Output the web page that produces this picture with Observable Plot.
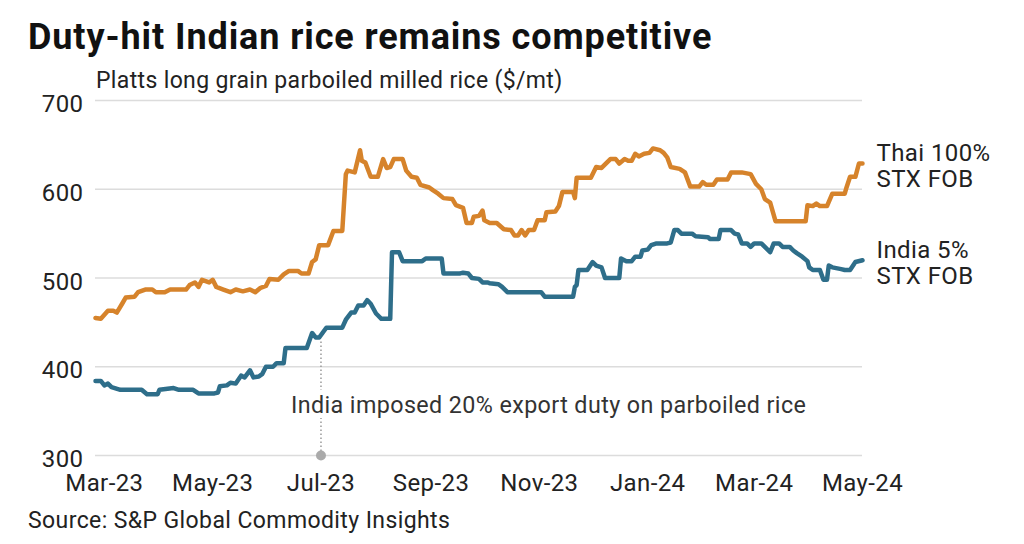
<!DOCTYPE html>
<html><head><meta charset="utf-8">
<script src="https://cdn.jsdelivr.net/npm/d3@7"></script>
<script src="https://cdn.jsdelivr.net/npm/@observablehq/plot@0.6"></script>
<style>
body{margin:0;background:#fff;width:1024px;height:544px;position:relative;overflow:hidden;font-family:Roboto,sans-serif;color:#111}
#title{position:absolute;left:28px;top:19px;font-size:36px;font-weight:700;line-height:1;white-space:nowrap;letter-spacing:0.9px}
#subtitle{position:absolute;left:96px;top:69px;font-size:23px;line-height:1;color:#222;white-space:nowrap;letter-spacing:0.35px}
#chart{position:absolute;left:0;top:90px}
#source{position:absolute;left:28px;top:509px;font-size:23px;line-height:1;color:#222;white-space:nowrap;letter-spacing:0.4px}
svg text{letter-spacing:0.4px}
</style></head>
<body>
<div id="title">Duty-hit Indian rice remains competitive</div>
<div id="subtitle">Platts long grain parboiled milled rice ($/mt)</div>
<div id="chart"></div>
<div id="source">Source: S&amp;P Global Commodity Insights</div>
<script>
const thaiDates = ["2023-02-24","2023-02-27","2023-03-03","2023-03-06","2023-03-08","2023-03-11","2023-03-13","2023-03-18","2023-03-20","2023-03-24","2023-03-28","2023-03-30","2023-04-04","2023-04-07","2023-04-16","2023-04-18","2023-04-21","2023-04-23","2023-04-25","2023-04-29","2023-05-01","2023-05-03","2023-05-07","2023-05-11","2023-05-14","2023-05-18","2023-05-22","2023-05-25","2023-05-28","2023-05-31","2023-06-02","2023-06-07","2023-06-10","2023-06-13","2023-06-18","2023-06-20","2023-06-24","2023-06-26","2023-06-28","2023-06-30","2023-07-05","2023-07-08","2023-07-13","2023-07-15","2023-07-16","2023-07-20","2023-07-23","2023-07-24","2023-07-26","2023-07-29","2023-08-02","2023-08-05","2023-08-07","2023-08-09","2023-08-11","2023-08-16","2023-08-18","2023-08-21","2023-08-24","2023-08-26","2023-08-31","2023-09-02","2023-09-05","2023-09-08","2023-09-13","2023-09-15","2023-09-19","2023-09-21","2023-09-24","2023-09-25","2023-09-28","2023-09-30","2023-10-01","2023-10-04","2023-10-08","2023-10-12","2023-10-16","2023-10-18","2023-10-20","2023-10-22","2023-10-24","2023-10-26","2023-10-29","2023-10-31","2023-11-04","2023-11-05","2023-11-10","2023-11-12","2023-11-14","2023-11-20","2023-11-21","2023-11-22","2023-11-30","2023-12-03","2023-12-06","2023-12-11","2023-12-14","2023-12-16","2023-12-19","2023-12-21","2023-12-23","2023-12-25","2023-12-27","2023-12-30","2024-01-02","2024-01-04","2024-01-08","2024-01-10","2024-01-12","2024-01-14","2024-01-19","2024-01-22","2024-01-25","2024-01-30","2024-02-01","2024-02-03","2024-02-07","2024-02-09","2024-02-15","2024-02-17","2024-02-23","2024-02-28","2024-03-02","2024-03-05","2024-03-07","2024-03-10","2024-03-13","2024-03-30","2024-03-31","2024-04-03","2024-04-05","2024-04-07","2024-04-11","2024-04-14","2024-04-21","2024-04-22","2024-04-24","2024-04-27","2024-04-29","2024-05-01"];
const thaiValues = [455,454,463,463,461,471,478,479,484,487,487,484,484,487,487,492,495,490,498,495,498,490,487,484,487,485,487,484,489,491,499,498,504,508,508,505,505,518,521,537,537,553,553,617,621,619,644,632,630,614,614,634,624,625,634,634,621,614,613,605,602,599,595,590,589,582,579,562,562,569,570,576,565,562,562,555,554,548,548,554,548,554,554,565,565,574,575,581,597,597,590,613,613,625,624,634,634,629,634,632,632,640,637,640,641,646,644,641,636,625,623,619,603,603,608,605,605,611,611,619,619,617,606,600,589,585,564,564,582,581,584,581,581,595,595,602,614,614,629,629];

const indiaDates = ["2023-02-24","2023-02-27","2023-03-01","2023-03-03","2023-03-05","2023-03-10","2023-03-22","2023-03-25","2023-03-31","2023-04-01","2023-04-09","2023-04-12","2023-04-20","2023-04-23","2023-05-02","2023-05-04","2023-05-05","2023-05-09","2023-05-11","2023-05-14","2023-05-17","2023-05-19","2023-05-22","2023-05-24","2023-05-27","2023-05-29","2023-05-31","2023-06-04","2023-06-06","2023-06-10","2023-06-11","2023-06-23","2023-06-26","2023-06-28","2023-06-30","2023-07-04","2023-07-13","2023-07-15","2023-07-18","2023-07-20","2023-07-22","2023-07-25","2023-07-27","2023-07-29","2023-08-01","2023-08-02","2023-08-04","2023-08-09","2023-08-10","2023-08-14","2023-08-16","2023-08-27","2023-08-29","2023-09-07","2023-09-08","2023-09-17","2023-09-19","2023-09-22","2023-09-24","2023-09-28","2023-09-30","2023-10-03","2023-10-04","2023-10-09","2023-10-11","2023-10-14","2023-11-02","2023-11-04","2023-11-20","2023-11-21","2023-11-22","2023-11-23","2023-11-28","2023-12-01","2023-12-03","2023-12-06","2023-12-08","2023-12-16","2023-12-17","2023-12-20","2023-12-23","2023-12-25","2023-12-28","2023-12-29","2024-01-01","2024-01-03","2024-01-06","2024-01-12","2024-01-14","2024-01-16","2024-01-18","2024-01-20","2024-01-26","2024-01-28","2024-02-04","2024-02-05","2024-02-10","2024-02-11","2024-02-17","2024-02-19","2024-02-21","2024-02-23","2024-02-26","2024-02-28","2024-03-01","2024-03-05","2024-03-07","2024-03-10","2024-03-12","2024-03-15","2024-03-17","2024-03-21","2024-03-23","2024-03-25","2024-03-28","2024-03-31","2024-04-01","2024-04-03","2024-04-07","2024-04-09","2024-04-11","2024-04-12","2024-04-14","2024-04-19","2024-04-21","2024-04-24","2024-04-27","2024-05-01"];
const indiaValues = [384,384,379,381,377,374,374,369,369,374,376,374,374,370,370,371,378,379,382,381,390,388,396,388,389,392,400,400,404,404,421,421,438,433,433,444,444,453,461,461,469,469,475,471,460,458,454,454,529,529,519,519,522,522,505,505,506,505,500,499,495,495,494,493,490,484,484,479,479,490,492,509,509,518,514,512,500,500,522,519,519,524,524,531,532,537,539,539,540,554,554,550,550,547,546,544,544,554,554,550,549,539,539,535,539,539,535,529,539,539,535,535,531,528,524,519,512,509,509,498,498,514,512,510,509,509,518,520];

const seriesNames = ["Thai 100%\nSTX FOB", "India 5%\nSTX FOB"];
const seriesColors = ["#d6832b", "#2e6e8a"];
const xTicks = ["2023-03-01","2023-05-01","2023-07-01","2023-09-01","2023-11-01","2024-01-01","2024-03-01","2024-05-01"];
const yTicks = [300, 400, 500, 600, 700];
const xDomain = ["2023-02-24", "2024-05-01"];
const annotationDate = "2023-07-01";
const annotationTop = 430;
const annotationText = "India imposed 20% export duty on parboiled rice";
const annotationLevel = 356;

const parse = d3.utcParse("%Y-%m-%d");
const thai = thaiDates.map((d, i) => ({date: parse(d), value: thaiValues[i]}));
const india = indiaDates.map((d, i) => ({date: parse(d), value: indiaValues[i]}));
const ends = [
  {date: thai[thai.length - 1].date, value: thai[thai.length - 1].value, name: seriesNames[0]},
  {date: india[india.length - 1].date, value: india[india.length - 1].value, name: seriesNames[1]}
];
const annDate = parse(annotationDate);

const chart = Plot.plot({
  width: 1024,
  height: 425,
  marginLeft: 95,
  marginRight: 162,
  marginTop: 10,
  marginBottom: 60,
  style: {fontFamily: "Roboto, sans-serif", fontSize: "24px", color: "#222", background: "transparent", overflow: "visible"},
  x: {type: "utc", domain: xDomain.map(parse)},
  y: {domain: [300, 700]},
  marks: [
    Plot.ruleY(yTicks, {stroke: "#dcdcdc", strokeWidth: 1.5}),
    Plot.ruleX([annDate], {y1: 300, y2: annotationTop, stroke: "#999", strokeWidth: 1.5, strokeDasharray: "1.5,2.5"}),
    Plot.dot([annDate], {x: d => d, y: () => 300, r: 5, fill: "#aaa", stroke: null}),
    Plot.text([annotationText], {x: () => annDate, y: () => annotationLevel, text: d => d, textAnchor: "start", dx: -30, fontSize: 23.3, fill: "#333", stroke: "white", strokeWidth: 10}),
    Plot.line(thai, {x: "date", y: "value", stroke: seriesColors[0], strokeWidth: 4.5, strokeLinejoin: "round", strokeLinecap: "round"}),
    Plot.line(india, {x: "date", y: "value", stroke: seriesColors[1], strokeWidth: 4.5, strokeLinejoin: "round", strokeLinecap: "round"}),
    Plot.text(ends, {x: "date", y: "value", text: "name", textAnchor: "start", dx: 14, dy: 2, fontSize: 24, lineHeight: 1.1, fill: "#222"}),
    Plot.axisY(yTicks, {tickSize: 0, tickPadding: 12, fontSize: 24, dy: 4, label: null}),
    Plot.axisX(xTicks.map(parse), {tickSize: 0, tickPadding: 18, fontSize: 24, tickFormat: d3.utcFormat("%b-%y"), label: null})
  ]
});
document.getElementById("chart").appendChild(chart);
</script>
</body></html>
